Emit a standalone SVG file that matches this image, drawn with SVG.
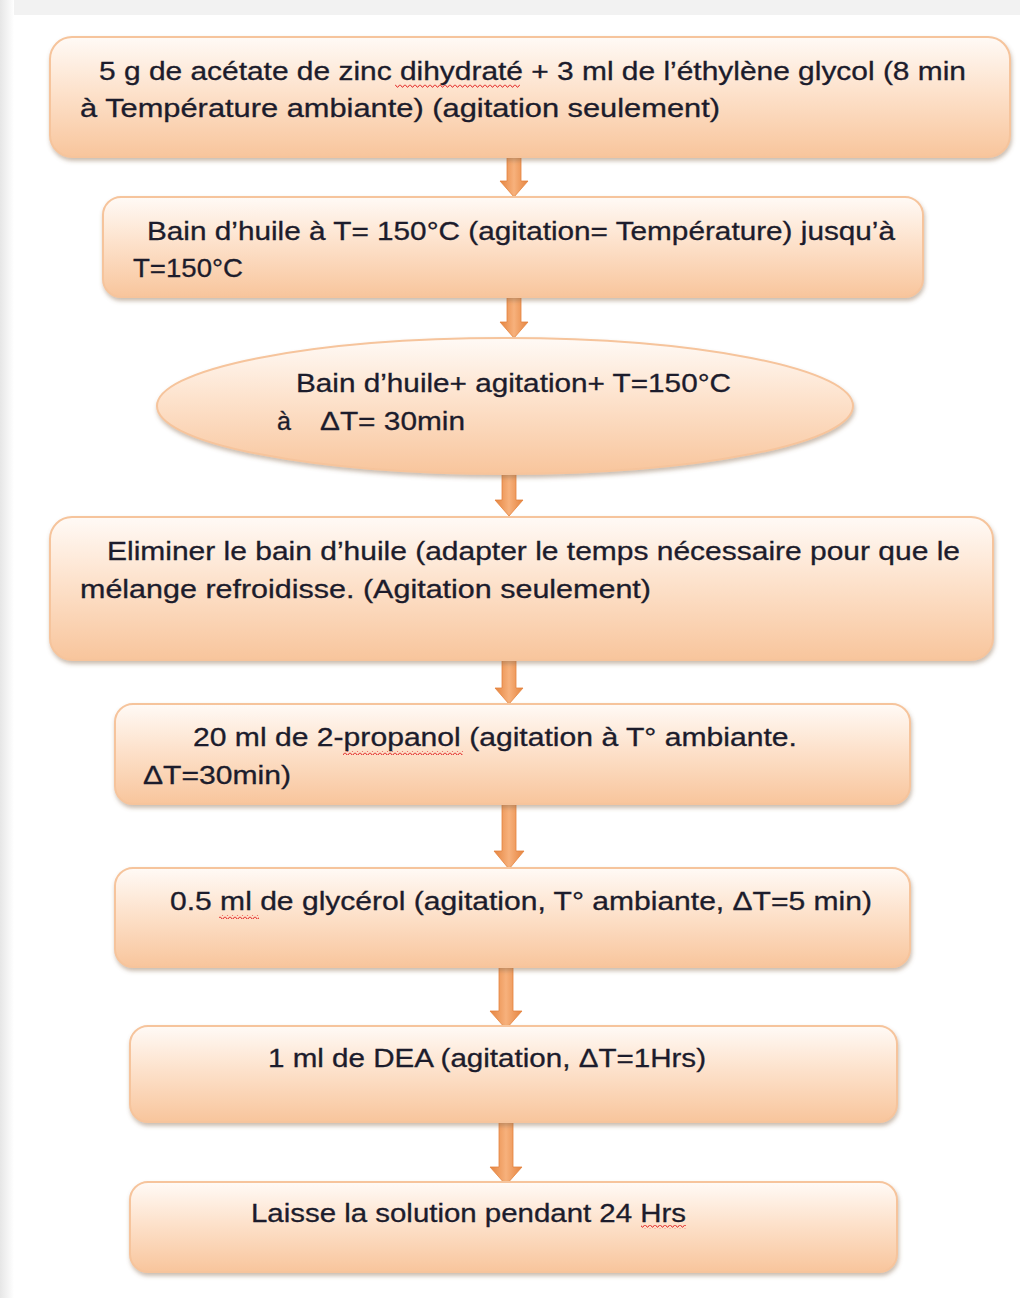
<svg xmlns="http://www.w3.org/2000/svg" width="1020" height="1298" viewBox="0 0 1020 1298">
<defs>
<linearGradient id="boxg" x1="0" y1="0" x2="0" y2="1">
<stop offset="0" stop-color="#fffaf6"/>
<stop offset="0.45" stop-color="#fde2cc"/>
<stop offset="1" stop-color="#f8c59c"/>
</linearGradient>
<linearGradient id="arrg" x1="0" y1="0" x2="1" y2="0">
<stop offset="0" stop-color="#e5843f"/>
<stop offset="0.5" stop-color="#f7b17c"/>
<stop offset="1" stop-color="#e5843f"/>
</linearGradient>
<linearGradient id="leftg" x1="0" y1="0" x2="1" y2="0">
<stop offset="0" stop-color="#e6e6e6"/>
<stop offset="1" stop-color="#ffffff"/>
</linearGradient>
<filter id="sh" x="-5%" y="-10%" width="110%" height="130%">
<feDropShadow dx="1" dy="3" stdDeviation="2" flood-color="#8a6a50" flood-opacity="0.45"/>
</filter>
<pattern id="wave" width="5" height="4" patternUnits="userSpaceOnUse">
<path d="M0,0.6 L2.5,3.4 L5,0.6" stroke="#e02020" fill="none" stroke-width="1"/>
</pattern>
</defs>
<style>
.box{fill:url(#boxg);stroke:#f6c49c;stroke-width:2;filter:url(#sh)}
.arr{fill:url(#arrg);stroke:#e5843f;stroke-width:0.8}
.t{font-family:"Liberation Sans",Arial,sans-serif;font-size:25px;fill:#1c1c2c;stroke:#1c1c2c;stroke-width:0.3}
</style>
<rect width="1020" height="1298" fill="#ffffff"/>
<rect x="0" y="0" width="1020" height="15" fill="#f2f2f2"/>
<rect x="0" y="0" width="14" height="1298" fill="url(#leftg)"/>

<g id="connectors">
<path class="arr" d="M507,152 H521 V181 H528 L514,197 L500,181 H507 Z"/>
<path class="arr" d="M507,295 H521 V322 H528 L514,338 L500,322 H507 Z"/>
<path class="arr" d="M502,474 H516 V500 H523 L509,516 L495,500 H502 Z"/>
<path class="arr" d="M502,657 H516 V688 H523 L509,704 L495,688 H502 Z"/>
<path class="arr" d="M502,802 H516 V851 H524 L509,869 L494,851 H502 Z"/>
<path class="arr" d="M499,963 H513 V1011 H522 L506,1029 L490,1011 H499 Z"/>
<path class="arr" d="M499,1119 H513 V1167 H522 L506,1185 L490,1167 H499 Z"/>
</g>

<g id="n1">
<rect class="box" x="50" y="37" width="960" height="120" rx="22"/>
<text class="t" x="99" y="80" textLength="867" lengthAdjust="spacingAndGlyphs">5 g de acétate de zinc dihydraté + 3 ml de l’éthylène glycol (8 min</text>
<text class="t" x="80" y="117" textLength="640" lengthAdjust="spacingAndGlyphs">à Température ambiante) (agitation seulement)</text>
<rect x="395" y="84" width="125" height="4" fill="url(#wave)"/>
</g>

<g id="n2">
<rect class="box" x="103" y="197" width="820" height="100" rx="18"/>
<text class="t" x="147" y="240" textLength="748" lengthAdjust="spacingAndGlyphs">Bain d’huile à T= 150°C (agitation= Température) jusqu’à</text>
<text class="t" x="133" y="277" textLength="110" lengthAdjust="spacingAndGlyphs">T=150°C</text>
</g>

<g id="n3">
<ellipse class="box" cx="505" cy="406" rx="348" ry="68"/>
<text class="t" x="296" y="392" textLength="435" lengthAdjust="spacingAndGlyphs">Bain d’huile+ agitation+ T=150°C</text>
<text class="t" x="277" y="430">à</text>
<text class="t" x="320" y="430" textLength="145" lengthAdjust="spacingAndGlyphs">ΔT= 30min</text>
</g>

<g id="n4">
<rect class="box" x="50" y="517" width="943" height="143" rx="22"/>
<text class="t" x="107" y="560" textLength="853" lengthAdjust="spacingAndGlyphs">Eliminer le bain d’huile (adapter le temps nécessaire pour que le</text>
<text class="t" x="80" y="598" textLength="571" lengthAdjust="spacingAndGlyphs">mélange refroidisse. (Agitation seulement)</text>
</g>

<g id="n5">
<rect class="box" x="115" y="704" width="795" height="100" rx="18"/>
<text class="t" x="193" y="746" textLength="604" lengthAdjust="spacingAndGlyphs">20 ml de 2-propanol (agitation à T° ambiante.</text>
<text class="t" x="143" y="784" textLength="148" lengthAdjust="spacingAndGlyphs">ΔT=30min)</text>
<rect x="343" y="751" width="120" height="4" fill="url(#wave)"/>
</g>

<g id="n6">
<rect class="box" x="115" y="868" width="795" height="99" rx="18"/>
<text class="t" x="170" y="910" textLength="702" lengthAdjust="spacingAndGlyphs">0.5 ml de glycérol (agitation, T° ambiante, ΔT=5 min)</text>
<rect x="219" y="915" width="40" height="4" fill="url(#wave)"/>
</g>

<g id="n7">
<rect class="box" x="130" y="1026" width="767" height="96" rx="18"/>
<text class="t" x="268" y="1067" textLength="438" lengthAdjust="spacingAndGlyphs">1 ml de DEA (agitation, ΔT=1Hrs)</text>
</g>

<g id="n8">
<rect class="box" x="130" y="1182" width="767" height="90" rx="18"/>
<text class="t" x="251" y="1222" textLength="435" lengthAdjust="spacingAndGlyphs">Laisse la solution pendant 24 Hrs</text>
<rect x="641" y="1225" width="45" height="4" fill="url(#wave)"/>
</g>
</svg>
